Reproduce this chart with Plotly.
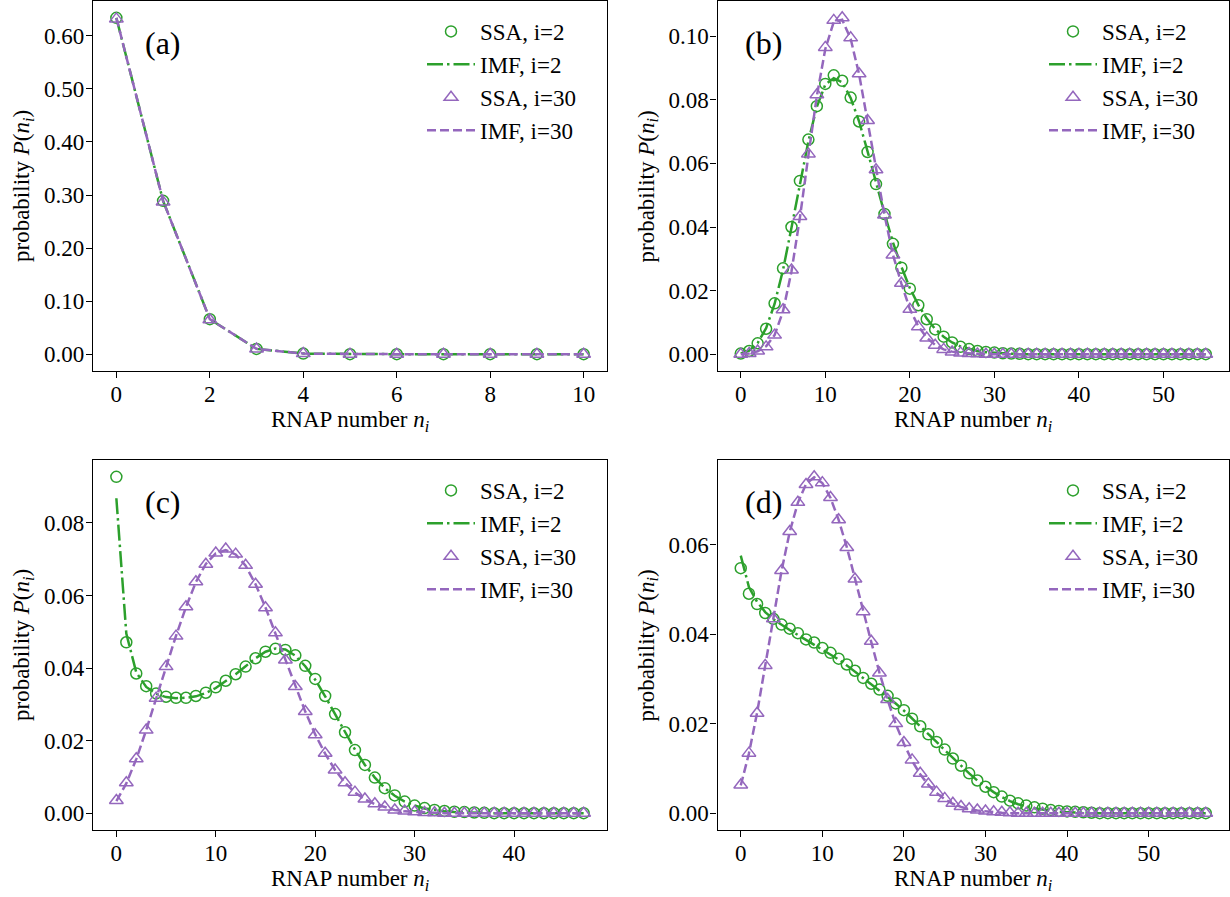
import plotly.graph_objects as go

GREEN = '#2ca02c'
PURPLE = '#9467bd'
FONT = 'Liberation Serif'

# ---- panel (a) ----
n_a = list(range(0, 11))
ssa2_a = [0.634, 0.289, 0.066, 0.010, 0.0012, 0.0001, 0.0, 0.0, 0.0, 0.0, 0.0]
imf2_a = [0.634, 0.289, 0.066, 0.010, 0.0011, 0.0001, 0.0, 0.0, 0.0, 0.0, 0.0]
ssa30_a = [0.632, 0.287, 0.065, 0.0098, 0.0011, 0.0001, 0.0, 0.0, 0.0, 0.0, 0.0]
imf30_a = [0.634, 0.289, 0.066, 0.010, 0.0011, 0.0001, 0.0, 0.0, 0.0, 0.0, 0.0]

# ---- panel (b) ----
n_b = list(range(0, 56))
ssa2_b = [0.0002, 0.001, 0.0034, 0.008, 0.016, 0.027, 0.040, 0.0545, 0.0675, 0.078,
          0.085, 0.0877, 0.086, 0.0807, 0.0732, 0.0636, 0.0535, 0.0441, 0.0347, 0.0272,
          0.0206, 0.0154, 0.011, 0.0078, 0.0055, 0.0037, 0.0023, 0.0016, 0.001, 0.0007,
          0.0005, 0.0003, 0.0002, 0.0001, 0.0, 0.0, 0.0, 0.0, 0.0, 0.0,
          0.0, 0.0, 0.0, 0.0, 0.0, 0.0, 0.0, 0.0, 0.0, 0.0,
          0.0, 0.0, 0.0, 0.0, 0.0, 0.0]
imf2_b = [0.0002, 0.0011, 0.0035, 0.0082, 0.0158, 0.0265, 0.0398, 0.054, 0.067, 0.0778,
          0.0848, 0.0868, 0.0855, 0.0806, 0.0732, 0.0638, 0.0538, 0.0443, 0.0352, 0.0275,
          0.0208, 0.0155, 0.0112, 0.0079, 0.0055, 0.0037, 0.0024, 0.0016, 0.001, 0.0006,
          0.0004, 0.0002, 0.0001, 0.0, 0.0, 0.0, 0.0, 0.0, 0.0, 0.0,
          0.0, 0.0, 0.0, 0.0, 0.0, 0.0, 0.0, 0.0, 0.0, 0.0,
          0.0, 0.0, 0.0, 0.0, 0.0, 0.0]
ssa30_b = [0.0, 0.0002, 0.001, 0.0023, 0.006, 0.014, 0.0265, 0.0433, 0.063, 0.0816,
           0.0965, 0.105, 0.1058, 0.0995, 0.0882, 0.0735, 0.058, 0.0438, 0.0312, 0.0223,
           0.0141, 0.0086, 0.0051, 0.0028, 0.0015, 0.0007, 0.0004, 0.0002, 0.0001, 0.0,
           0.0, 0.0, 0.0, 0.0, 0.0, 0.0, 0.0, 0.0, 0.0, 0.0,
           0.0, 0.0, 0.0, 0.0, 0.0, 0.0, 0.0, 0.0, 0.0, 0.0,
           0.0, 0.0, 0.0, 0.0, 0.0, 0.0]
imf30_b = [0.0, 0.0002, 0.0009, 0.0025, 0.006, 0.0135, 0.026, 0.043, 0.0625, 0.0812,
           0.096, 0.1045, 0.1052, 0.0992, 0.088, 0.0735, 0.0582, 0.0438, 0.0313, 0.0222,
           0.0142, 0.0088, 0.0052, 0.0029, 0.0015, 0.0008, 0.0004, 0.0002, 0.0001, 0.0,
           0.0, 0.0, 0.0, 0.0, 0.0, 0.0, 0.0, 0.0, 0.0, 0.0,
           0.0, 0.0, 0.0, 0.0, 0.0, 0.0, 0.0, 0.0, 0.0, 0.0,
           0.0, 0.0, 0.0, 0.0, 0.0, 0.0]

# ---- panel (c) ----
n_c = list(range(0, 48))
ssa2_c = [0.0927, 0.0471, 0.0385, 0.035, 0.033, 0.0321, 0.0318, 0.0318, 0.0323, 0.0332,
          0.0347, 0.0365, 0.0383, 0.0404, 0.0427, 0.0445, 0.0453, 0.045, 0.0435, 0.0406,
          0.037, 0.0323, 0.0273, 0.0223, 0.0174, 0.0133, 0.0098, 0.0069, 0.0049, 0.0032,
          0.0021, 0.0014, 0.0009, 0.0006, 0.0004, 0.0003, 0.0002, 0.0001, 0.0, 0.0,
          0.0, 0.0, 0.0, 0.0, 0.0, 0.0, 0.0, 0.0]
imf2_c = [0.0868, 0.0495, 0.0388, 0.0348, 0.0329, 0.032, 0.0317, 0.0318, 0.0322, 0.0331,
          0.0345, 0.0363, 0.0383, 0.0405, 0.0427, 0.0445, 0.0454, 0.0451, 0.0434, 0.0405,
          0.0368, 0.0322, 0.0273, 0.0223, 0.0175, 0.0133, 0.0098, 0.0069, 0.0048, 0.0032,
          0.0021, 0.0013, 0.0008, 0.0005, 0.0003, 0.0002, 0.0001, 0.0, 0.0, 0.0,
          0.0, 0.0, 0.0, 0.0, 0.0, 0.0, 0.0, 0.0]
ssa30_c = [0.0035, 0.0084, 0.015, 0.0229, 0.0317, 0.0404, 0.0488, 0.0569, 0.0638, 0.0686,
           0.0717, 0.0728, 0.0714, 0.0683, 0.0631, 0.0566, 0.0497, 0.0422, 0.0349, 0.028,
           0.0216, 0.0165, 0.0119, 0.0084, 0.0058, 0.0039, 0.0026, 0.0017, 0.0009, 0.0006,
           0.0004, 0.0002, 0.0001, 0.0, 0.0, 0.0, 0.0, 0.0, 0.0, 0.0,
           0.0, 0.0, 0.0, 0.0, 0.0, 0.0, 0.0, 0.0]
imf30_c = [0.0033, 0.0082, 0.0149, 0.0229, 0.0316, 0.0404, 0.0489, 0.0568, 0.0637, 0.0687,
           0.0716, 0.0725, 0.0713, 0.0682, 0.0631, 0.0567, 0.0496, 0.0422, 0.0349, 0.028,
           0.0217, 0.0164, 0.0119, 0.0084, 0.0057, 0.0038, 0.0025, 0.0016, 0.0009, 0.0005,
           0.0003, 0.0002, 0.0001, 0.0, 0.0, 0.0, 0.0, 0.0, 0.0, 0.0,
           0.0, 0.0, 0.0, 0.0, 0.0, 0.0, 0.0, 0.0]

# ---- panel (d) ----
n_d = list(range(0, 58))
ssa2_d = [0.0547, 0.049, 0.0467, 0.0447, 0.0434, 0.0421, 0.0412, 0.0402, 0.0388, 0.0381,
          0.0369, 0.0358, 0.0345, 0.0332, 0.0318, 0.0302, 0.0289, 0.0276, 0.0262, 0.0245,
          0.023, 0.0211, 0.0194, 0.0176, 0.0159, 0.0142, 0.0122, 0.0106, 0.0089, 0.0073,
          0.0059, 0.0047, 0.0037, 0.0028, 0.0022, 0.0017, 0.0013, 0.001, 0.0007, 0.0005,
          0.0004, 0.0003, 0.0002, 0.0001, 0.0, 0.0, 0.0, 0.0, 0.0, 0.0,
          0.0, 0.0, 0.0, 0.0, 0.0, 0.0, 0.0, 0.0]
imf2_d = [0.0575, 0.0505, 0.0472, 0.0449, 0.0433, 0.042, 0.0409, 0.0398, 0.0387, 0.0377,
          0.0366, 0.0355, 0.0343, 0.033, 0.0316, 0.0302, 0.0288, 0.0275, 0.0261, 0.0245,
          0.0229, 0.0212, 0.0195, 0.0177, 0.0159, 0.0141, 0.0123, 0.0106, 0.0089, 0.0073,
          0.0059, 0.0047, 0.0036, 0.0027, 0.002, 0.0015, 0.0011, 0.0008, 0.0005, 0.0003,
          0.0002, 0.0001, 0.0, 0.0, 0.0, 0.0, 0.0, 0.0, 0.0, 0.0,
          0.0, 0.0, 0.0, 0.0, 0.0, 0.0, 0.0, 0.0]
ssa30_d = [0.0063, 0.0134, 0.0223, 0.033, 0.0434, 0.0542, 0.0629, 0.0694, 0.0734, 0.0751,
           0.0738, 0.0705, 0.0655, 0.0593, 0.0523, 0.045, 0.0384, 0.0313, 0.0254, 0.02,
           0.0158, 0.0119, 0.0089, 0.0065, 0.0047, 0.0033, 0.0022, 0.0015, 0.001, 0.0007,
           0.0005, 0.0003, 0.0002, 0.0001, 0.0, 0.0, 0.0, 0.0, 0.0, 0.0,
           0.0, 0.0, 0.0, 0.0, 0.0, 0.0, 0.0, 0.0, 0.0, 0.0,
           0.0, 0.0, 0.0, 0.0, 0.0, 0.0, 0.0, 0.0]
imf30_d = [0.0062, 0.0133, 0.0224, 0.0331, 0.0435, 0.0541, 0.0628, 0.0693, 0.0735, 0.075,
           0.0737, 0.0704, 0.0655, 0.0594, 0.0524, 0.0451, 0.0382, 0.0314, 0.0253, 0.0199,
           0.0155, 0.0117, 0.0087, 0.0063, 0.0045, 0.0031, 0.0021, 0.0014, 0.0009, 0.0006,
           0.0004, 0.0002, 0.0001, 0.0, 0.0, 0.0, 0.0, 0.0, 0.0, 0.0,
           0.0, 0.0, 0.0, 0.0, 0.0, 0.0, 0.0, 0.0, 0.0, 0.0,
           0.0, 0.0, 0.0, 0.0, 0.0, 0.0, 0.0, 0.0]

panels = [
    ('(a)', n_a, ssa2_a, imf2_a, ssa30_a, imf30_a),
    ('(b)', n_b, ssa2_b, imf2_b, ssa30_b, imf30_b),
    ('(c)', n_c, ssa2_c, imf2_c, ssa30_c, imf30_c),
    ('(d)', n_d, ssa2_d, imf2_d, ssa30_d, imf30_d),
]

W, H = 1230, 897
# axes boxes in pixels: left, right, top, bottom
boxes = [(93, 607, 1, 371), (717.5, 1229, 1, 371),
         (93, 607, 460, 830), (717.5, 1229, 460, 830)]
xticks = [[0, 2, 4, 6, 8, 10], [0, 10, 20, 30, 40, 50], [0, 10, 20, 30, 40], [0, 10, 20, 30, 40, 50]]
yticks = [[0.0, 0.1, 0.2, 0.3, 0.4, 0.5, 0.6], [0.0, 0.02, 0.04, 0.06, 0.08, 0.10],
          [0.0, 0.02, 0.04, 0.06, 0.08], [0.0, 0.02, 0.04, 0.06]]
label_x = [0.137, 0.09, 0.137, 0.09]

fig = go.Figure()

for k, (lab, n, s2, i2, s30, i30) in enumerate(panels):
    sfx = '' if k == 0 else str(k + 1)
    xa, ya = 'x' + sfx, 'y' + sfx
    leg = 'legend' + sfx
    common = dict(xaxis=xa, yaxis=ya, legend=leg)
    fig.add_trace(go.Scatter(x=n, y=s2, mode='markers', name='SSA, i=2', legendgroup=leg + 'a',
                             marker=dict(symbol='circle-open', size=11, color=GREEN, line=dict(width=1.5)),
                             **common))
    fig.add_trace(go.Scatter(x=n, y=i2, mode='lines', name='IMF, i=2', legendgroup=leg + 'b',
                             line=dict(color=GREEN, width=2.5, dash='16px,4px,2.5px,4px'), **common))
    fig.add_trace(go.Scatter(x=n, y=s30, mode='markers', name='SSA, i=30', legendgroup=leg + 'c',
                             marker=dict(symbol='triangle-up-open', size=12, color=PURPLE, line=dict(width=1.5)),
                             **common))
    fig.add_trace(go.Scatter(x=n, y=i30, mode='lines', name='IMF, i=30', legendgroup=leg + 'd',
                             line=dict(color=PURPLE, width=2.5, dash='9px,4px'), **common))

    l, r, t, b = boxes[k]
    xmax = n[-1]
    ymax = max(max(s2), max(i2), max(s30), max(i30))
    xr = [-0.05 * xmax, 1.05 * xmax]
    yr = [-0.05 * ymax, 1.05 * ymax]
    axis_style = dict(showline=True, linecolor='black', linewidth=1.2, mirror=True,
                      ticks='outside', ticklen=6, tickwidth=1.2, tickcolor='black',
                      showgrid=False, zeroline=False,
                      tickfont=dict(family=FONT, size=23, color='black'))
    fig.layout['xaxis' + sfx] = dict(domain=[l / W, r / W], anchor=ya, range=xr,
                                     tickvals=xticks[k], ticklabelstandoff=-4, **axis_style)
    fig.layout['yaxis' + sfx] = dict(domain=[1 - b / H, 1 - t / H], anchor=xa, range=yr,
                                     tickvals=yticks[k], tickformat='.2f', ticklabelstandoff=-3,
                                     **axis_style)
    fig.layout[leg] = dict(x=(r - 185) / W, y=1 - (t + 9) / H, xanchor='left', yanchor='top',
                           bgcolor='rgba(0,0,0,0)', borderwidth=0, itemwidth=48,
                           tracegroupgap=0,
                           font=dict(family=FONT, size=23, color='black'))
    # panel label
    fig.add_annotation(x=label_x[k], y=0.886, xref=xa + ' domain', yref=ya + ' domain',
                       text=lab, showarrow=False, xanchor='center', yanchor='middle',
                       font=dict(family=FONT, size=32, color='black'))
    # axis titles
    fig.add_annotation(x=(l + r) / 2 / W, y=1 - (b + 50) / H, xref='paper', yref='paper',
                       text='RNAP number <i>n<sub>i</sub></i>', showarrow=False,
                       xanchor='center', yanchor='middle',
                       font=dict(family=FONT, size=23, color='black'))
    fig.add_annotation(x=(l - 70) / W, y=1 - (t + b) / 2 / H, xref='paper', yref='paper',
                       text='probability <i>P</i>(<i>n<sub>i</sub></i>)', showarrow=False,
                       textangle=-90, xanchor='center', yanchor='middle',
                       font=dict(family=FONT, size=23, color='black'))

fig.update_layout(width=W, height=H, margin=dict(l=0, r=0, t=0, b=0),
                  paper_bgcolor='white', plot_bgcolor='white', showlegend=True)

# drop the browser's default 8px body margin so the figure sits at the page corner
fig.write_html('out.html', config={'displayModeBar': False},
               post_script="document.body.style.margin='0';")
